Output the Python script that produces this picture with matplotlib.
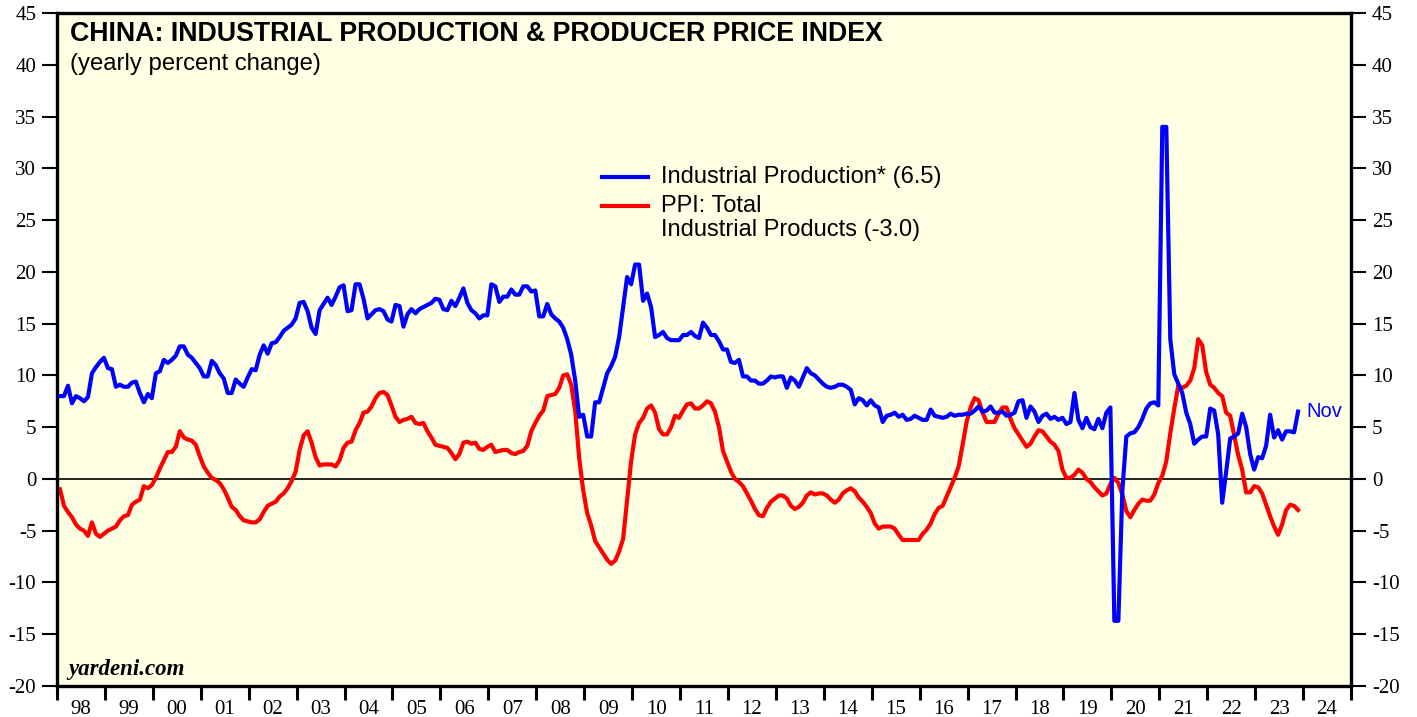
import numpy as np
import matplotlib
matplotlib.use("Agg")
import matplotlib.pyplot as plt
from matplotlib.ticker import FixedLocator, NullFormatter

# China industrial production, yearly % change, monthly from Jan 1998
ip = [
    8.0, 8.0, 9.0, 7.3, 8.0, 7.8, 7.5, 7.9, 10.2, 10.8, 11.3, 11.7,         # 1998
    10.7, 10.6, 8.9, 9.1, 8.9, 8.9, 9.3, 9.4, 8.3, 7.4, 8.2, 7.8,           # 1999
    10.2, 10.4, 11.5, 11.2, 11.5, 11.9, 12.8, 12.8, 12.0, 11.7, 11.2, 10.7, # 2000
    9.9, 9.9, 11.4, 11.0, 10.2, 9.7, 8.3, 8.3, 9.6, 9.2, 8.9, 9.8,          # 2001
    10.6, 10.5, 12.0, 12.9, 12.1, 13.1, 13.2, 13.7, 14.3, 14.6, 14.9, 15.5, # 2002
    17.0, 17.1, 16.2, 14.6, 14.0, 16.3, 16.9, 17.5, 16.8, 17.6, 18.5, 18.7, # 2003
    16.2, 16.3, 18.8, 18.8, 17.4, 15.5, 15.9, 16.3, 16.4, 16.2, 15.4, 15.2, # 2004
    16.8, 16.7, 14.7, 15.9, 16.4, 16.0, 16.4, 16.6, 16.8, 17.0, 17.4, 17.3, # 2005
    16.4, 16.3, 17.2, 16.7, 17.5, 18.4, 17.0, 16.3, 16.0, 15.5, 15.8, 15.8, # 2006
    18.8, 18.6, 17.1, 17.6, 17.6, 18.3, 17.8, 17.8, 18.6, 18.6, 18.1, 18.2, # 2007
    15.7, 15.7, 16.9, 15.9, 15.5, 15.2, 14.6, 13.5, 12.0, 9.5, 6.0, 6.2,    # 2008
    4.1, 4.1, 7.4, 7.4, 8.8, 10.2, 10.9, 11.8, 13.7, 16.6, 19.5, 18.8,      # 2009
    20.7, 20.7, 17.2, 17.9, 16.6, 13.7, 13.9, 14.2, 13.6, 13.4, 13.4, 13.4, # 2010
    13.9, 13.9, 14.2, 13.8, 13.6, 15.1, 14.6, 13.9, 13.9, 13.3, 12.5, 12.5, # 2011
    11.3, 11.2, 11.5, 9.9, 9.9, 9.5, 9.5, 9.2, 9.2, 9.5, 9.9, 9.8,          # 2012
    9.9, 9.9, 8.8, 9.8, 9.5, 8.9, 9.8, 10.7, 10.2, 10.0, 9.6, 9.2,          # 2013
    8.9, 8.8, 8.9, 9.1, 9.1, 8.9, 8.6, 7.2, 7.8, 7.6, 7.1, 7.6,             # 2014
    7.1, 6.9, 5.5, 6.1, 6.2, 6.4, 6.0, 6.2, 5.7, 5.8, 6.1, 5.9,             # 2015
    5.7, 5.7, 6.7, 6.1, 6.0, 5.9, 6.0, 6.3, 6.1, 6.2, 6.2, 6.3,             # 2016
    6.3, 6.6, 7.0, 6.5, 6.6, 7.0, 6.4, 6.4, 6.5, 6.1, 6.2, 6.4,             # 2017
    7.5, 7.6, 5.9, 7.0, 6.5, 5.5, 6.1, 6.3, 5.8, 6.0, 5.7, 5.9,             # 2018
    5.3, 5.5, 8.3, 5.7, 4.9, 5.9, 5.0, 4.8, 5.8, 4.9, 6.4, 6.9,             # 2019
    -13.7, -13.7, -1.1, 4.1, 4.4, 4.5, 5.0, 5.8, 6.8, 7.3, 7.4, 7.1,        # 2020
    34.0, 34.0, 13.5, 10.1, 9.2, 8.3, 6.4, 5.3, 3.4, 3.8, 4.1, 4.1,         # 2021
    6.8, 6.6, 4.3, -2.3, 0.7, 3.9, 4.1, 4.4, 6.3, 5.0, 2.4, 0.9,            # 2022
    2.1, 2.0, 3.2, 6.2, 4.0, 4.7, 3.8, 4.6, 4.6, 4.5, 6.5,                  # 2023
]

# PPI: total industrial products, yearly % change
ppi = [
    -1.0, -2.6, -3.2, -3.7, -4.4, -4.8, -5.0, -5.5, -4.2, -5.3, -5.6, -5.3, # 1998
    -5.0, -4.8, -4.6, -4.0, -3.6, -3.5, -2.5, -2.2, -2.0, -0.7, -0.9, -0.6, # 1999
    0.1, 1.0, 1.8, 2.6, 2.6, 3.1, 4.6, 4.0, 3.8, 3.7, 3.3, 2.2,             # 2000
    1.2, 0.6, 0.1, -0.1, -0.4, -1.0, -1.8, -2.7, -3.0, -3.6, -4.0, -4.1,    # 2001
    -4.2, -4.2, -3.9, -3.2, -2.6, -2.4, -2.2, -1.7, -1.4, -0.9, -0.2, 0.7,  # 2002
    2.8, 4.2, 4.6, 3.5, 2.1, 1.3, 1.4, 1.4, 1.4, 1.2, 1.8, 3.0,             # 2003
    3.5, 3.6, 4.7, 5.4, 6.4, 6.5, 7.0, 7.8, 8.3, 8.4, 8.1, 7.1,             # 2004
    6.0, 5.5, 5.7, 5.8, 6.0, 5.4, 5.3, 5.4, 4.6, 4.0, 3.3, 3.2,             # 2005
    3.1, 3.0, 2.5, 1.9, 2.4, 3.5, 3.6, 3.4, 3.5, 2.9, 2.8, 3.1,             # 2006
    3.3, 2.6, 2.7, 2.8, 2.8, 2.5, 2.4, 2.6, 2.7, 3.2, 4.6, 5.4,             # 2007
    6.1, 6.6, 8.0, 8.1, 8.2, 8.8, 10.0, 10.1, 9.1, 6.6, 2.0, -1.1,          # 2008
    -3.3, -4.5, -6.0, -6.6, -7.2, -7.8, -8.2, -7.9, -7.0, -5.8, -2.1, 1.7,  # 2009
    4.3, 5.4, 5.9, 6.8, 7.1, 6.4, 4.8, 4.3, 4.3, 5.0, 6.1, 5.9,             # 2010
    6.6, 7.2, 7.3, 6.8, 6.8, 7.1, 7.5, 7.3, 6.5, 5.0, 2.7, 1.7,             # 2011
    0.7, 0.0, -0.3, -0.7, -1.4, -2.1, -2.9, -3.5, -3.6, -2.8, -2.2, -1.9,   # 2012
    -1.6, -1.6, -1.9, -2.6, -2.9, -2.7, -2.3, -1.6, -1.3, -1.5, -1.4, -1.4, # 2013
    -1.6, -2.0, -2.3, -2.0, -1.4, -1.1, -0.9, -1.2, -1.8, -2.2, -2.7, -3.3, # 2014
    -4.3, -4.8, -4.6, -4.6, -4.6, -4.8, -5.4, -5.9, -5.9, -5.9, -5.9, -5.9, # 2015
    -5.3, -4.9, -4.3, -3.4, -2.8, -2.6, -1.7, -0.8, 0.1, 1.2, 3.3, 5.5,     # 2016
    6.9, 7.8, 7.6, 6.4, 5.5, 5.5, 5.5, 6.3, 6.9, 6.9, 5.8, 4.9,             # 2017
    4.3, 3.7, 3.1, 3.4, 4.1, 4.7, 4.6, 4.1, 3.6, 3.3, 2.7, 0.9,             # 2018
    0.1, 0.1, 0.4, 0.9, 0.6, 0.0, -0.3, -0.8, -1.2, -1.6, -1.4, -0.5,       # 2019
    0.1, -0.4, -1.5, -3.1, -3.7, -3.0, -2.4, -2.0, -2.1, -2.1, -1.5, -0.4,  # 2020
    0.3, 1.7, 4.4, 6.8, 9.0, 8.8, 9.0, 9.5, 10.7, 13.5, 12.9, 10.3,         # 2021
    9.1, 8.8, 8.3, 8.0, 6.4, 6.1, 4.2, 2.3, 0.9, -1.3, -1.3, -0.7,          # 2022
    -0.8, -1.4, -2.5, -3.6, -4.6, -5.4, -4.4, -3.0, -2.5, -2.6, -3.0,       # 2023
]

years = list(range(1998, 2025))
year_labels = [f"{y % 100:02d}" for y in years]
y_ticks = list(range(-20, 50, 5))

# monthly time axis in fractional years
t_ip = 1998 + (np.arange(len(ip)) + 0.75) / 12
t_ppi = 1998 + (np.arange(len(ppi)) + 0.75) / 12

plt.rcParams["font.family"] = "Liberation Serif"

fig = plt.figure(figsize=(14.17, 7.17), dpi=100)
ax = fig.add_axes([57 / 1417, 31 / 717, 1294 / 1417, 673 / 717])
ax.set_facecolor("#FFFFE3")

ax.axhline(0, color="black", lw=1.2, zorder=1)
ax.plot(t_ip, ip, color="#0000FF", lw=3.0, solid_joinstyle="round", zorder=3)
ax.plot(t_ppi, ppi, color="#FF0000", lw=3.0, solid_joinstyle="round", zorder=2)

ax.set_xlim(1998, 2025)
ax.set_ylim(-20, 45)

for s in ax.spines.values():
    s.set_linewidth(2.4)
    s.set_color("black")

# y axis labelled on both sides
ax.set_yticks(y_ticks)
ax.set_yticklabels([str(v) for v in y_ticks])
ax.tick_params(axis="y", which="major", direction="out", length=11, width=1.5,
               labelsize=15, pad=4, left=True, right=True,
               labelleft=True, labelright=True, colors="black")

# year boundaries as ticks, labels centred in each year
ax.xaxis.set_major_locator(FixedLocator(years + [2025]))
ax.xaxis.set_major_formatter(NullFormatter())
ax.xaxis.set_minor_locator(FixedLocator([y + 0.5 for y in years]))
ax.set_xticklabels(year_labels, minor=True)
ax.tick_params(axis="x", which="major", direction="out", length=10, width=2.2)
ax.tick_params(axis="x", which="minor", length=0, labelsize=15, pad=10)

sans = "Liberation Sans"
ax.text(70 / 1417, 1 - 34 / 717, "CHINA: INDUSTRIAL PRODUCTION & PRODUCER PRICE INDEX",
        transform=fig.transFigure, family=sans, fontweight="bold", fontsize=19.3,
        va="center", ha="left")
ax.text(70 / 1417, 1 - 64 / 717, "(yearly percent change)",
        transform=fig.transFigure, family=sans, fontsize=17.2, va="center", ha="left")

# legend drawn by hand so the red key sits on the first line of its label
ax.plot([0.4212, 0.4567], [0.7563, 0.7563], transform=ax.transAxes,
        color="#0000FF", lw=3.0)
ax.plot([0.4212, 0.4567], [0.7132, 0.7132], transform=ax.transAxes,
        color="#FF0000", lw=3.0)
ax.text(0.4668, 0.7563, "Industrial Production* (6.5)", transform=ax.transAxes,
        family=sans, fontsize=17, va="center", ha="left")
ax.text(0.4668, 0.7132, "PPI: Total", transform=ax.transAxes,
        family=sans, fontsize=17, va="center", ha="left")
ax.text(0.4668, 0.6776, "Industrial Products (-3.0)", transform=ax.transAxes,
        family=sans, fontsize=17, va="center", ha="left")

ax.annotate("Nov", xy=(t_ip[-1], ip[-1]), xytext=(6, 0), textcoords="offset points",
            color="#0000FF", family=sans, fontsize=14.5, va="center", ha="left")

ax.text(0.009, 0.024, "yardeni.com", transform=ax.transAxes, fontsize=16.5,
        fontweight="bold", fontstyle="italic", va="center", ha="left")

fig.savefig("out.png", dpi=100)
